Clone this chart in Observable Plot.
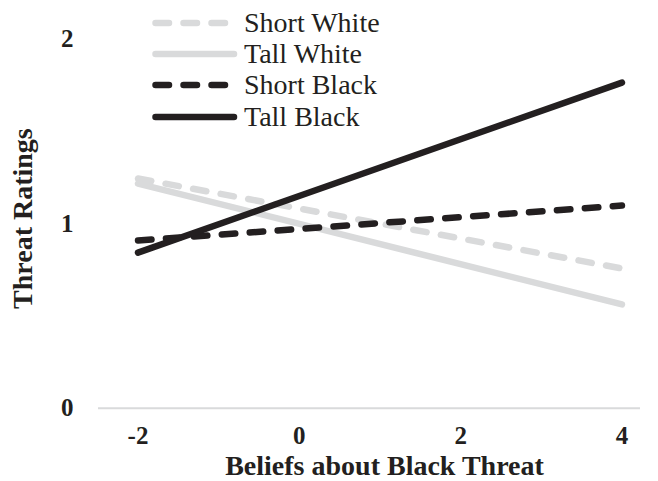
<!DOCTYPE html>
<html>
<head>
<meta charset="utf-8">
<script src="https://cdn.jsdelivr.net/npm/d3@7"></script>
<script src="https://cdn.jsdelivr.net/npm/@observablehq/plot@0.6"></script>
<style>
  body { margin: 0; background: #fff; }
  #wrap { position: relative; width: 658px; height: 481px; font-family: "Liberation Serif", "Times New Roman", serif; }
  #legend { position: absolute; left: 150px; top: 7px; }
  .row { display: flex; align-items: center; height: 31.3px; font-size: 28px; color: #231f20; }
  .row svg { margin-right: 6px; }
</style>
</head>
<body>
<div id="wrap"></div>
<script>
// Data
const xValues = [-2, 4];
const seriesNames = ["Short White", "Tall White", "Short Black", "Tall Black"];
const shortWhite = [1.244, 0.757];
const tallWhite = [1.217, 0.562];
const shortBlack = [0.908, 1.098];
const tallBlack = [0.843, 1.764];
const xTicks = [-2, 0, 2, 4];
const yTicks = [0, 1, 2];
const xTitle = "Beliefs about Black Threat";
const yTitle = "Threat Ratings";

const LIGHT = "#d9dadb";
const DARK = "#231f20";
const styles = {
  "Short White": {stroke: LIGHT, dash: "13.5,14.5"},
  "Tall White": {stroke: LIGHT, dash: null},
  "Short Black": {stroke: DARK, dash: "13.5,14.5"},
  "Tall Black": {stroke: DARK, dash: null}
};
const valuesBySeries = {
  "Short White": shortWhite,
  "Tall White": tallWhite,
  "Short Black": shortBlack,
  "Tall Black": tallBlack
};
const tables = seriesNames.map(name => ({
  name,
  rows: xValues.map((x, i) => ({x, y: valuesBySeries[name][i]}))
}));

const SW = 6.5;
const font = "Liberation Serif, Times New Roman, serif";

const plot = Plot.plot({
  width: 658,
  height: 481,
  marginLeft: 98,
  marginRight: 18,
  marginTop: 38.5,
  marginBottom: 73.3,
  style: {fontFamily: font, color: DARK, background: "#fff"},
  x: {domain: [-2.49, 4.23]},
  y: {domain: [0, 2]},
  marks: [
    Plot.ruleY([0], {stroke: LIGHT, strokeWidth: 2}),
    Plot.axisX({ticks: xTicks, tickSize: 0, tickPadding: 18, fontSize: 25, fontWeight: "bold", label: null, tickFormat: d => String(d)}),
    Plot.axisY({ticks: yTicks, tickSize: 0, tickPadding: 25, fontSize: 25, fontWeight: "bold", label: null, tickFormat: d => String(d)}),
    ...tables.map(t => Plot.line(t.rows, {
      x: "x", y: "y",
      stroke: styles[t.name].stroke,
      strokeWidth: SW,
      strokeLinecap: "round",
      strokeDasharray: styles[t.name].dash
    })),
    Plot.text([xTitle], {frameAnchor: "bottom", textAnchor: "middle", dx: 15, dy: 58, fontSize: 28, fontWeight: "bold", fill: DARK, lineAnchor: "middle"}),
    Plot.text([yTitle], {frameAnchor: "left", textAnchor: "middle", rotate: -90, dx: -75, dy: -5, fontSize: 28, fontWeight: "bold", fill: DARK, lineAnchor: "middle"})
  ]
});

const wrap = document.getElementById("wrap");
wrap.appendChild(plot);

const legend = document.createElement("div");
legend.id = "legend";
for (const name of seriesNames) {
  const s = styles[name];
  const row = document.createElement("div");
  row.className = "row";
  const ns = "http://www.w3.org/2000/svg";
  const svg = document.createElementNS(ns, "svg");
  svg.setAttribute("width", 88);
  svg.setAttribute("height", 12);
  const line = document.createElementNS(ns, "line");
  line.setAttribute("x1", 5.5);
  line.setAttribute("x2", 84);
  line.setAttribute("y1", 6);
  line.setAttribute("y2", 6);
  line.setAttribute("stroke", s.stroke);
  line.setAttribute("stroke-width", SW);
  line.setAttribute("stroke-linecap", "round");
  if (s.dash) line.setAttribute("stroke-dasharray", s.dash);
  svg.appendChild(line);
  row.appendChild(svg);
  const span = document.createElement("span");
  span.textContent = name;
  row.appendChild(span);
  legend.appendChild(row);
}
wrap.appendChild(legend);
</script>
</body>
</html>
